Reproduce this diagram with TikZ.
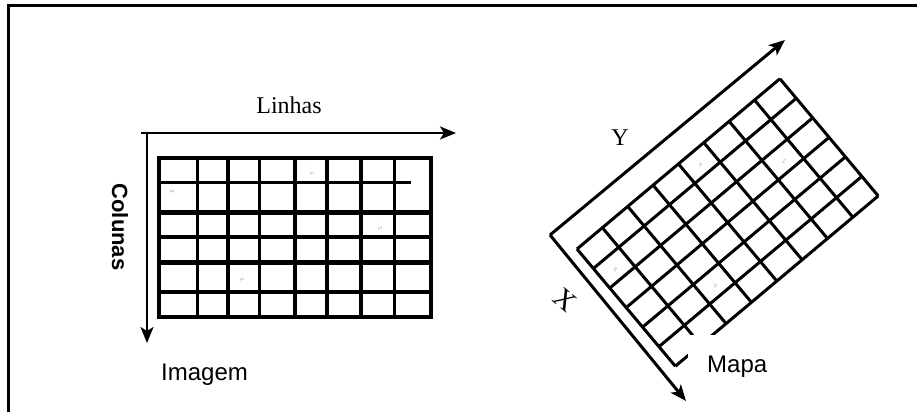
\documentclass[tikz,border=0pt]{standalone}
\usepackage{fontspec}
\setmainfont{Liberation Serif}
\setsansfont{Liberation Sans}
\usetikzlibrary{positioning,arrows.meta}
\definecolor{ink}    {HTML}{000000}
\definecolor{softink}{HTML}{8C8C8C}
\tikzset{
  % --- lines
  frame/.style = {draw=ink, line width=3pt},
  axis/.style  = {draw=ink, line width=2.4pt, -{Stealth[length=16pt,width=13pt,inset=4pt]}},
  axisr/.style = {axis, line width=3pt},
  cell/.style  = {draw=ink, line width=3pt},
  % --- text
  lbl/.style   = {font=\fontsize{24}{26}\selectfont, text=ink, inner sep=0pt},
  lbls/.style  = {font=\sffamily\fontsize{24}{26}\selectfont, text=ink, inner sep=0pt},
  lblb/.style  = {font=\sffamily\bfseries\fontsize{22}{24}\selectfont, text=ink, inner sep=0pt},
  pxl/.style   = {font=\fontsize{4}{4.5}\selectfont, text=softink, align=center, inner sep=0pt},
}
\begin{document}
\begin{tikzpicture}[x=1pt,y=-1pt]
  \useasboundingbox (0,0) rectangle (917,412);
  % --- frame
  \coordinate (fl) at (8,412); \coordinate (fc) at (8,6); \coordinate (fr) at (917,6);
  \draw[frame] (fl) -- (fc) -- (fr);

  % --- imagem: axes
  \coordinate (io) at (147,133);
  \coordinate (is) at (141,133);
  \coordinate (ie) at (456,133);
  \coordinate (id) at (147,343);
  \draw[axis] (is) -- (ie);
  \draw[axis] (io) -- (id);

  % --- imagem: grid
  \draw[cell, line width=3.5pt] (159,158) rectangle (431,317);
  \foreach \gx/\gw in {197/3, 228/4.5, 259/3, 295/3.5, 327/3.5, 361/4.5, 394/3}
    \draw[cell, line width=\gw pt] (\gx,158) -- (\gx,317);
  \foreach \gy/\gw/\ge in {182/3/411, 212/5/431, 237/3.5/431, 262/5/431, 292/3.5/431}
    \draw[cell, line width=\gw pt] (159,\gy) -- (\ge,\gy);
  \foreach \px/\py/\pn in {172/189/4, 312/171/1, 380/226/3, 242/277/2}
    \node[pxl] (ip\pn) at (\px,\py) {$\cdot$\\p\pn};

  \node[lbl] (linhas) at (289,105) {Linhas};
  \node[lblb, rotate=-90] (colunas) at (120,227) {Colunas};
  \node[lbls, anchor=base west] (imagem) at (161,380) {Imagem};

  % --- mapa: axes
  \coordinate (mo) at (550,235);
  \coordinate (my) at (785,40);
  \coordinate (mx) at (686,401);
  \draw[axisr] (mo) -- (my);
  \draw[axisr] (mo) -- (mx);

  % --- mapa: rotated grid
  \begin{scope}[shift={(577,249)}, x={(25.36pt,21.28pt)}, y={(16.39pt,-19.53pt)}]
    \foreach \i in {0,...,8} \draw[cell] (\i,0) -- (\i,6);
    \foreach \j in {0,...,6} \draw[cell] (0,\j) -- (8,\j);
    \foreach \px/\py/\pn in {0.5/1.5/4, 4.5/0.5/1, 6.5/2.5/3, 2.5/4.5/2}
      \node[pxl, rotate=40] (mp\pn) at (\px,\py) {$\cdot$\\p\pn};
  \end{scope}

  \fill[white] (688,335) rectangle (850,395);
  \node[lbls, anchor=base west] (mapa) at (707,372) {Mapa};
  \node[lbl] (ylbl) at (620,138) {Y};
  \node[lbl, font=\fontsize{28}{30}\selectfont, rotate=-40] (xlbl) at (565,300) {X};
\end{tikzpicture}
\end{document}
